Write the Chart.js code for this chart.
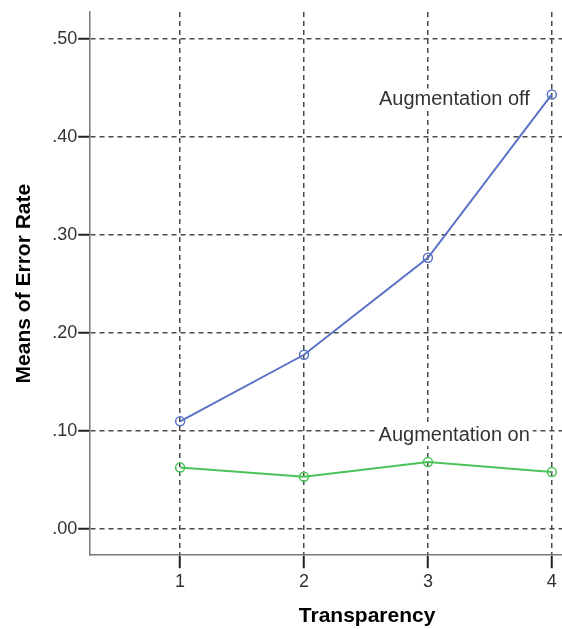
<!DOCTYPE html>
<html>
<head>
<meta charset="utf-8">
<script src="https://cdn.jsdelivr.net/npm/chart.js@4/dist/chart.umd.min.js"></script>
<style>
  html, body { margin: 0; padding: 0; background: #fff; overflow: hidden; }
  #wrap { width: 562px; height: 629px; overflow: hidden; }
  canvas { display: block; }
</style>
</head>
<body>
<div id="wrap"><canvas id="errChart" width="650" height="629"></canvas></div>
<script>
// means of error rate per transparency level
const categories = [1, 2, 3, 4];
const offValues = [0.1095, 0.1775, 0.2766, 0.4434];
const onValues = [0.0624, 0.0529, 0.0679, 0.0577];
const yTicks = [0, 0.1, 0.2, 0.3, 0.4, 0.5];
const seriesNames = ["Augmentation off", "Augmentation on"];

const tickFont = { family: "'Liberation Sans', Arial, sans-serif", size: 18 };
const titleFont = { family: "'Liberation Sans', Arial, sans-serif", size: 21, weight: "bold" };

// series names drawn next to the lines, on a white box like SPSS does
const lineLabels = {
  id: "lineLabels",
  beforeDatasetsDraw(chart) {
    const { ctx, scales: { x, y } } = chart;
    const right = x.getPixelForValue(categories[3]) - 22;
    const spots = [
      { text: seriesNames[0], cy: y.getPixelForValue(offValues[3]) + 5 },
      { text: seriesNames[1], cy: y.getPixelForValue(0.0955) }
    ];
    ctx.save();
    ctx.font = "20px 'Liberation Sans', Arial, sans-serif";
    ctx.textAlign = "right";
    ctx.textBaseline = "middle";
    spots.forEach(s => {
      const w = ctx.measureText(s.text).width;
      ctx.fillStyle = "#fff";
      ctx.fillRect(right - w - 3, s.cy - 11, w + 6, 22);
      ctx.fillStyle = "#333";
      ctx.fillText(s.text, right, s.cy);
    });
    ctx.restore();
  }
};

const toPoints = vals => vals.map((v, i) => ({ x: categories[i], y: v }));

new Chart(document.getElementById("errChart"), {
  type: "line",
  data: {
    datasets: [{
      label: seriesNames[0],
      data: toPoints(offValues),
      borderColor: "#5a72c6",
      borderWidth: 2,
      pointRadius: 4.5,
      pointBorderWidth: 1.5,
      pointBackgroundColor: "rgba(255,255,255,0)",
      pointBorderColor: "#5a72c6",
      tension: 0
    }, {
      label: seriesNames[1],
      data: toPoints(onValues),
      borderColor: "#4cc35a",
      borderWidth: 2,
      pointRadius: 4.5,
      pointBorderWidth: 1.5,
      pointBackgroundColor: "rgba(255,255,255,0)",
      pointBorderColor: "#4cc35a",
      tension: 0
    }]
  },
  options: {
    responsive: false,
    animation: false,
    layout: { padding: { left: 8, top: 12, right: 5, bottom: 0 } },
    plugins: {
      legend: { display: false },
      tooltip: { enabled: false }
    },
    scales: {
      x: {
        type: "linear",
        min: 0.2745,
        max: 4.744,
        afterBuildTicks: s => { s.ticks = categories.map(v => ({ value: v })); },
        ticks: {
          font: tickFont,
          color: "#333",
          padding: 3,
          callback: v => String(v)
        },
        grid: {
          color: "#4a4a4a",
          lineWidth: 1.5,
          tickLength: 13,
          tickColor: "#222",
          tickWidth: 2
        },
        border: { color: "#777", width: 1.5, dash: [5, 4] },
        title: {
          display: true,
          text: "Transparency",
          font: titleFont,
          color: "#000",
          padding: { top: 8, bottom: 0 }
        }
      },
      y: {
        min: -0.0272,
        max: 0.5276,
        afterBuildTicks: s => { s.ticks = yTicks.map(v => ({ value: v })); },
        ticks: {
          font: tickFont,
          color: "#333",
          padding: 1,
          callback: v => v.toFixed(2).replace(/^0/, "")
        },
        grid: {
          color: "#4a4a4a",
          lineWidth: 1.5,
          tickLength: 12,
          tickColor: "#222",
          tickWidth: 2
        },
        border: { color: "#777", width: 1.5, dash: [5, 4] },
        title: {
          display: true,
          text: "Means of Error Rate",
          font: titleFont,
          color: "#000",
          padding: { top: 4, bottom: 14 }
        }
      }
    }
  },
  plugins: [lineLabels]
});
</script>
</body>
</html>
